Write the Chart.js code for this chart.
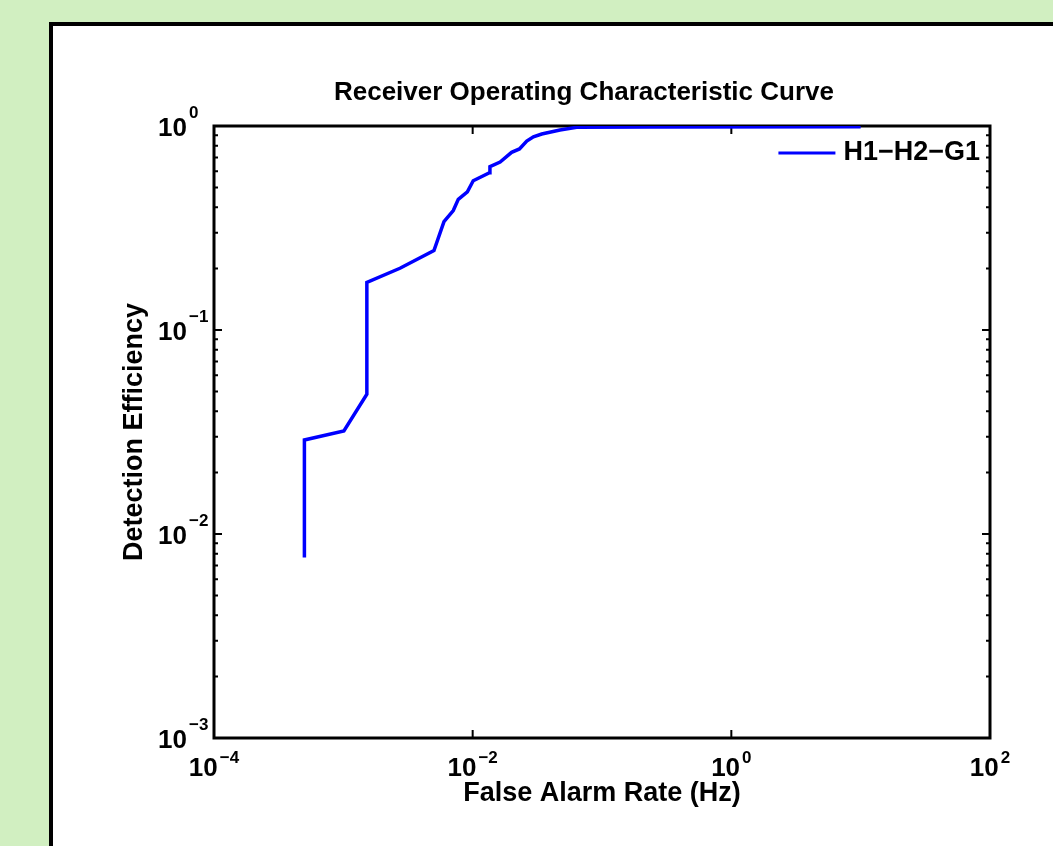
<!DOCTYPE html>
<html lang="en">
<head>
<meta charset="UTF-8">
<title>Receiver Operating Characteristic Curve</title>
<script src="https://cdn.jsdelivr.net/npm/chart.js"></script>
<style>
  html, body { margin: 0; padding: 0; overflow: hidden; }
  body { background: #d1efc1; width: 1053px; height: 846px; position: relative; }
  #panel { position: absolute; left: 49px; top: 22px; width: 1100px; height: 900px;
           border: 4px solid #000; background: #fff; }
  #roc { position: absolute; left: 0; top: 0; }
</style>
</head>
<body>
<div id="panel"></div>
<canvas id="roc" width="1053" height="846"></canvas>

<script>
// ROC curve: false alarm rate (Hz) vs detection efficiency
const falseAlarmRate = [
  5.0e-4, 5.0e-4, 1.01e-3, 1.52e-3, 1.52e-3, 2.74e-3, 5.02e-3, 6.0e-3,
  7.08e-3, 7.74e-3, 9.10e-3, 1.01e-2, 1.35e-2, 1.36e-2, 1.63e-2, 2.00e-2,
  2.30e-2, 2.62e-2, 2.95e-2, 3.42e-2, 4.73e-2, 6.37e-2, 0.235, 10
];
const efficiency = [
  0.00767, 0.0289, 0.0320, 0.0484, 0.171, 0.2007, 0.245, 0.340,
  0.385, 0.437, 0.476, 0.539, 0.590, 0.632, 0.666, 0.743,
  0.772, 0.844, 0.886, 0.914, 0.956, 0.985, 0.990, 0.992
];
const seriesLabel = 'H1\u2212H2\u2212G1';

// decade ticks (x labelled every second decade)
const xTicks = [1e-4, 1e-2, 1e0, 1e2];
const yTicks = [1e-3, 1e-2, 1e-1, 1e0];

const FONT = '"Liberation Sans", Arial, Helvetica, sans-serif';
Chart.defaults.font.family = FONT;
Chart.defaults.color = '#000';

function exponentOf(v) {
  return String(Math.round(Math.log10(v))).replace('-', '\u2212');
}

// box, inward ticks, 10^n labels and the legend
const matlabAxes = {
  id: 'matlabAxes',
  beforeDatasetsDraw(chart) {
    const { ctx, chartArea: a, scales: { x, y } } = chart;
    ctx.save();
    ctx.strokeStyle = '#000';
    ctx.lineWidth = 3;
    ctx.strokeRect(a.left, a.top, a.right - a.left, a.bottom - a.top);
    ctx.lineWidth = 2;
    ctx.beginPath();
    x.ticks.forEach(t => {
      const px = x.getPixelForValue(t.value);
      ctx.moveTo(px, a.bottom); ctx.lineTo(px, a.bottom - 8);
      ctx.moveTo(px, a.top); ctx.lineTo(px, a.top + 8);
    });
    y.ticks.forEach(t => {
      const py = y.getPixelForValue(t.value);
      const len = t.major ? 8 : 4;
      ctx.moveTo(a.left, py); ctx.lineTo(a.left + len, py);
      ctx.moveTo(a.right, py); ctx.lineTo(a.right - len, py);
    });
    ctx.stroke();
    ctx.restore();
  },
  afterDraw(chart) {
    const { ctx, chartArea: a, scales: { x, y } } = chart;
    const base = 'bold 26px ' + FONT;
    const sup = 'bold 17px ' + FONT;
    ctx.save();
    ctx.fillStyle = '#000';
    ctx.textBaseline = 'alphabetic';

    x.ticks.forEach(t => {
      const px = x.getPixelForValue(t.value);
      const e = exponentOf(t.value);
      ctx.font = base; const w1 = ctx.measureText('10').width;
      ctx.font = sup; const w2 = ctx.measureText(e).width;
      const start = px - (w1 + 2 + w2) / 2;
      ctx.textAlign = 'left';
      ctx.font = base; ctx.fillText('10', start, a.bottom + 38);
      ctx.font = sup; ctx.fillText(e, start + w1 + 2, a.bottom + 25);
    });

    y.ticks.filter(t => t.major).forEach(t => {
      const py = y.getPixelForValue(t.value);
      ctx.font = base; ctx.textAlign = 'right';
      ctx.fillText('10', a.left - 27, py + 10);
      ctx.font = sup; ctx.textAlign = 'left';
      ctx.fillText(exponentOf(t.value), a.left - 25, py - 8);
    });

    // legend, top right inside the axes
    const ds = chart.data.datasets[0];
    const ly = a.top + 27;
    ctx.font = 'bold 27px ' + FONT;
    ctx.textAlign = 'right';
    ctx.textBaseline = 'middle';
    const tw = ctx.measureText(ds.label).width;
    const tx = a.right - 10;
    ctx.fillText(ds.label, tx, ly);
    ctx.strokeStyle = ds.borderColor;
    ctx.lineWidth = 3;
    ctx.beginPath();
    ctx.moveTo(tx - tw - 8 - 57, ly);
    ctx.lineTo(tx - tw - 8, ly);
    ctx.stroke();
    ctx.restore();
  }
};

new Chart(document.getElementById('roc'), {
  type: 'line',
  data: {
    datasets: [{
      label: seriesLabel,
      data: falseAlarmRate.map((f, i) => ({ x: f, y: efficiency[i] })),
      borderColor: '#0000ff',
      borderWidth: 3.5,
      pointRadius: 0,
      tension: 0,
      fill: false
    }]
  },
  options: {
    responsive: false,
    animation: false,
    devicePixelRatio: 1,
    layout: { padding: { left: 100, right: 63, top: 60, bottom: 20 } },
    plugins: {
      legend: { display: false },
      tooltip: { enabled: false },
      title: {
        display: true,
        fullSize: false,
        text: 'Receiver Operating Characteristic Curve     ',
        font: { size: 26, weight: 'bold' },
        color: '#000',
        padding: { top: 16.9, bottom: 17.9 }
      }
    },
    scales: {
      x: {
        type: 'logarithmic',
        min: 1e-4,
        max: 1e2,
        grid: { display: false, drawTicks: false },
        border: { display: false },
        ticks: { display: false },
        afterBuildTicks: s => { s.ticks = xTicks.map(v => ({ value: v, major: true })); },
        title: {
          display: true,
          text: 'False Alarm Rate (Hz)',
          font: { size: 27, weight: 'bold' },
          color: '#000',
          padding: { top: 39.8, bottom: 15.8 }
        }
      },
      y: {
        type: 'logarithmic',
        min: 1e-3,
        max: 1,
        grid: { display: false, drawTicks: false },
        border: { display: false },
        ticks: { display: false },
        afterBuildTicks: s => {
          const ticks = [];
          yTicks.forEach((v, i) => {
            ticks.push({ value: v, major: true });
            if (i < yTicks.length - 1) {
              for (let k = 2; k <= 9; k++) ticks.push({ value: k * v, major: false });
            }
          });
          s.ticks = ticks;
        },
        title: {
          display: true,
          text: 'Detection Efficiency',
          font: { size: 27, weight: 'bold' },
          color: '#000',
          padding: { top: 18.3, bottom: 63.3 }
        }
      }
    }
  },
  plugins: [matlabAxes]
});
</script>
</body>
</html>
